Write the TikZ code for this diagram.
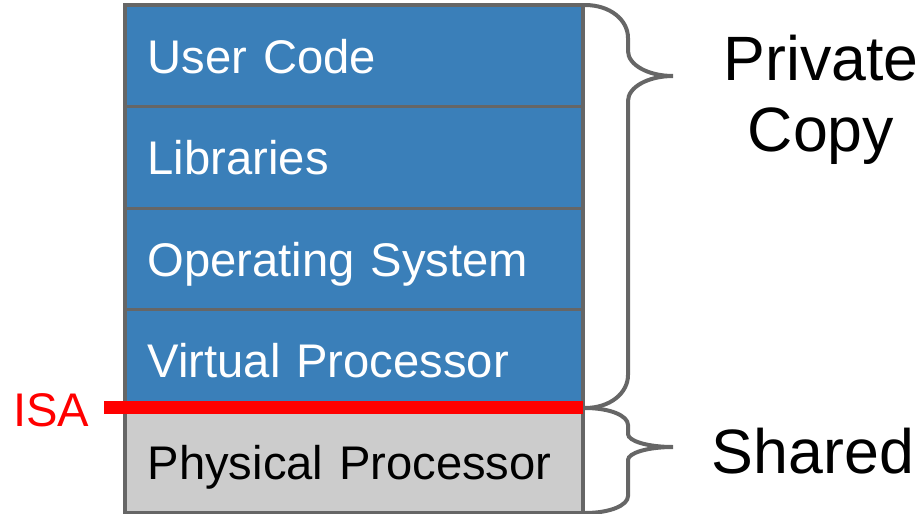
\documentclass[tikz,border=0pt]{standalone}
\usepackage{fontspec}
\setmainfont{Liberation Sans}
\usetikzlibrary{positioning}
\definecolor{layerblue}{HTML}{3A7FB9}
\definecolor{layergray}{HTML}{CCCCCC}
\definecolor{edgegray}{HTML}{666666}
\def\sidebrace(#1:#2:#3:#4:#5){\draw[bracestroke] (585,#1) .. controls (610,#1) and (628,{#1+0.448*#4}) .. (628,{#1+#4}) -- (628,{#2-#5}) .. controls (628,{#2-0.448*#5}) and (648,#2) .. (673,#2) .. controls (648,#2) and (628,{#2+0.448*#5}) .. (628,{#2+#5}) -- (628,{#3-#4}) .. controls (628,{#3-0.448*#4}) and (610,#3) .. (585,#3);}
\tikzset{
	layer/.style={draw=edgegray, line width=2.4pt, fill=layerblue, text=white, anchor=north west, outer sep=0pt, inner xsep=17pt, inner ysep=0pt, minimum width=343.5pt, minimum height=76.2pt, text width=309.5pt, align=left, text height=26pt, text depth=0pt, font=\fontsize{35.4}{40}\selectfont},
	bracestroke/.style={draw=edgegray, line width=3pt},
	sidetext/.style={inner sep=0pt, font=\fontsize{47}{53.25}\selectfont},
	isaline/.style={draw=red, line width=9.75pt}
}

\begin{document}
\begin{tikzpicture}[x=0.75pt, y=-0.75pt]
			%%%%% START %%%%%
			\useasboundingbox (0,0) rectangle (921,514);
			
			\node[layer] (user) at (125,5) {User Code};
			\node[layer, below=0pt of user] (libs) {Libraries};
			\node[layer, below=0pt of libs] (os) {Operating System};
			\node[layer, below=0pt of os] (virt) {Virtual Processor};
			\node[layer, fill=layergray, text=black, below=0pt of virt] (phys) {Physical Processor};
			
			\coordinate (isaL) at (104,407);
			\draw[isaline] (isaL) -- (isaL -| virt.east);
			\node[sidetext, text=red, font=\fontsize{35.4}{40}\selectfont, anchor=base west] (isa) at (13,426) {ISA};
			
			\sidebrace(5:76:408:33:25)
			\sidebrace(408:447:513:17:13)
			
			\node[sidetext, align=center] (private) at (821,100) {Private\\Copy};
			\node[sidetext, anchor=base] (shared) at (813,473) {Shared};
			
			%%%%% END %%%%%
		\end{tikzpicture}
\end{document}
